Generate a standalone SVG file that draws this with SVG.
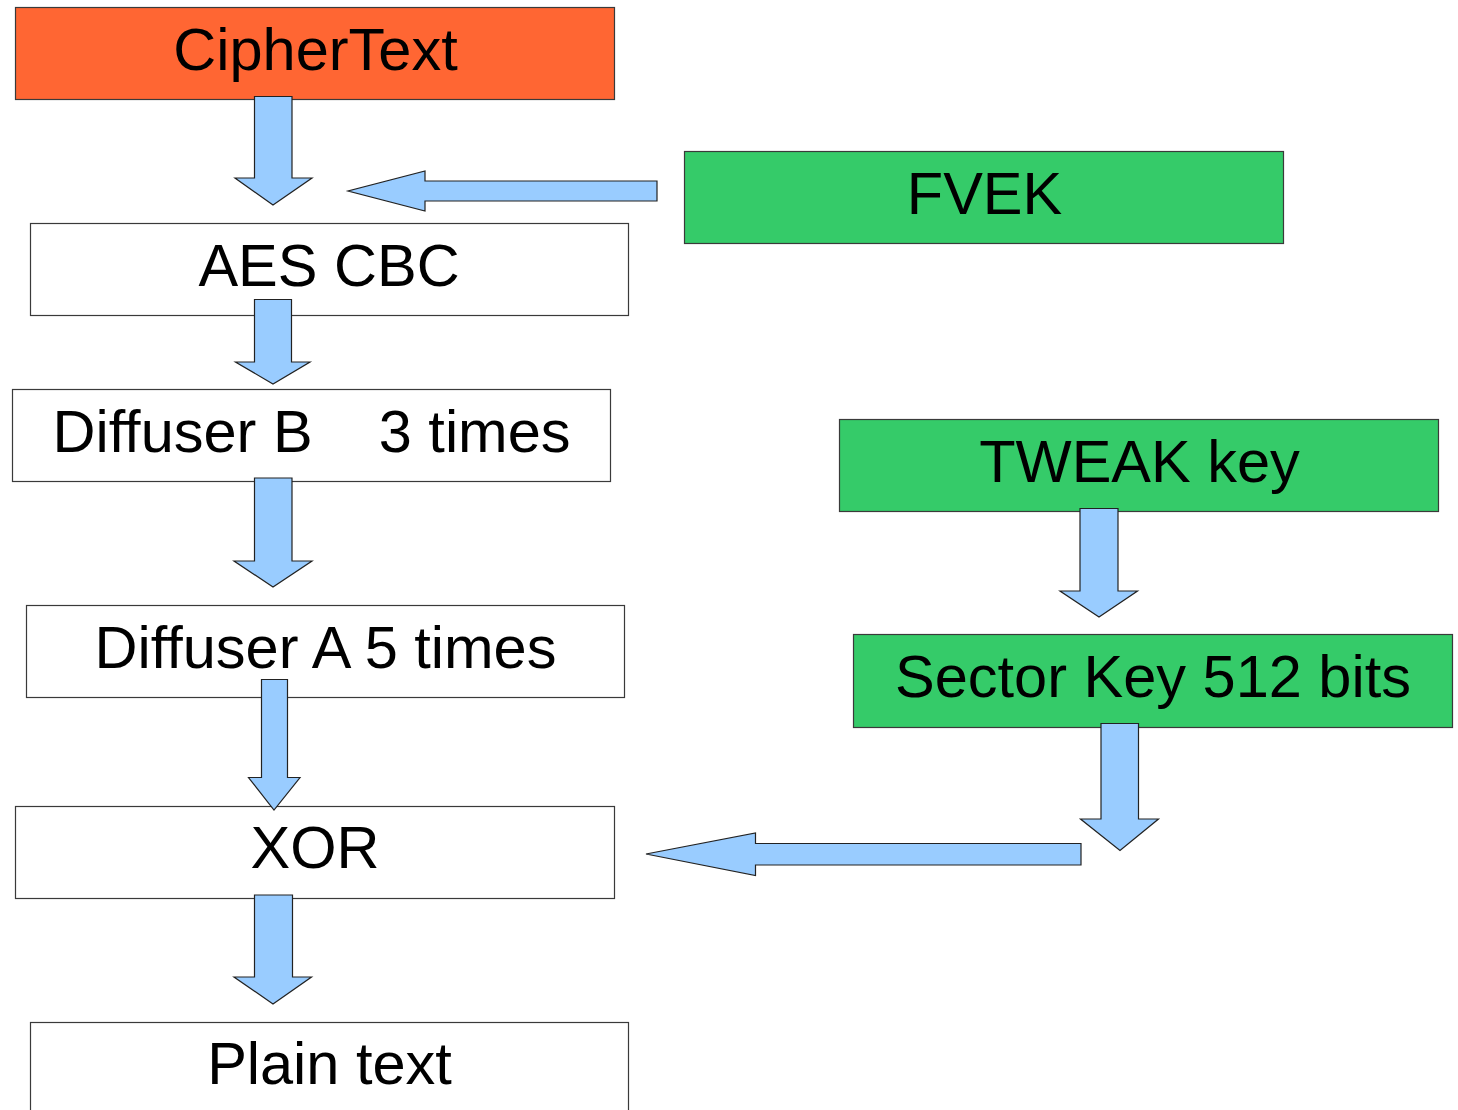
<svg xmlns="http://www.w3.org/2000/svg" width="1458" height="1110" viewBox="0 0 1458 1110">
<style>
.box{stroke:#3a3a3a;stroke-width:1.2}
.w{fill:#ffffff}
.o{fill:#ff6633}
.g{fill:#35cb69}
.lbl{font-family:"Liberation Sans",Arial,sans-serif;font-size:59.5px;fill:#000;text-anchor:middle;white-space:pre}
.arr{fill:#99ccff;stroke:#222;stroke-width:1.2;stroke-linejoin:miter}
</style>
<rect width="1458" height="1110" fill="#ffffff"/>
<g id="cipher"><rect class="box o" x="15.5" y="7.5" width="599" height="92"/><text class="lbl" x="315.5" y="69.5">CipherText</text></g>
<g id="aes"><rect class="box w" x="30.5" y="223.5" width="598" height="92"/><text class="lbl" x="329" y="285.5">AES CBC</text></g>
<g id="diffB"><rect class="box w" x="12.5" y="389.5" width="598" height="92"/><text class="lbl" x="311.5" y="451.5" xml:space="preserve">Diffuser B    3 times</text></g>
<g id="diffA"><rect class="box w" x="26.5" y="605.5" width="598" height="92"/><text class="lbl" x="325.5" y="667.5">Diffuser A 5 times</text></g>
<g id="xor"><rect class="box w" x="15.5" y="806.5" width="599" height="92"/><text class="lbl" x="315" y="867.5">XOR</text></g>
<g id="plain"><rect class="box w" x="30.5" y="1022.5" width="598" height="100"/><text class="lbl" x="329.5" y="1083.5">Plain text</text></g>
<g id="fvek"><rect class="box g" x="684.5" y="151.5" width="599" height="92"/><text class="lbl" x="984.5" y="213.5">FVEK</text></g>
<g id="tweak"><rect class="box g" x="839.5" y="419.5" width="599" height="92"/><text class="lbl" x="1139.5" y="481.5">TWEAK key</text></g>
<g id="sector"><rect class="box g" x="853.5" y="634.5" width="599" height="93"/><text class="lbl" x="1153" y="696.5">Sector Key 512 bits</text></g>
<g id="connectors">
<polygon class="arr" points="254.5,96.5 292,96.5 292,178 312,178 273,205 235,178 254.5,178"/>
<polygon class="arr" points="657,181 425,181 425,171 348,191 425,211 425,201 657,201"/>
<polygon class="arr" points="254.5,299.5 291.5,299.5 291.5,362 310,362 273,384 235.5,362 254.5,362"/>
<polygon class="arr" points="254.5,478 292,478 292,561 312,561 273,587 234,561 254.5,561"/>
<polygon class="arr" points="261.5,679.5 287.5,679.5 287.5,777.5 300,777.5 274,810 248.5,777.5 261.5,777.5"/>
<polygon class="arr" points="254.5,895 292.5,895 292.5,977 311.5,977 273,1004 234,977 254.5,977"/>
<polygon class="arr" points="1080,508.5 1118,508.5 1118,591 1137.5,591 1099,617 1060,591 1080,591"/>
<polygon class="arr" points="1101,723.5 1138.5,723.5 1138.5,819 1158.5,819 1120,850.5 1080.5,819 1101,819"/>
<polygon class="arr" points="1081,843.5 755.5,843.5 755.5,833 646,854 755.5,875.5 755.5,865 1081,865"/>
</g>
</svg>
